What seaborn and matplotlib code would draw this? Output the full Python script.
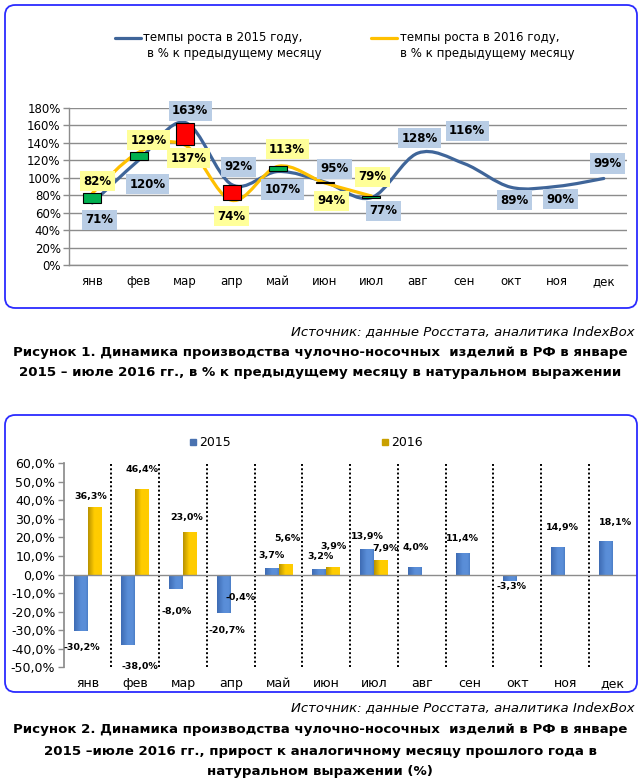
import numpy as np
import pandas as pd
import matplotlib
matplotlib.use("Agg")
import matplotlib.pyplot as plt
import seaborn as sns
from matplotlib.path import Path
from matplotlib.patches import PathPatch, FancyBboxPatch, Rectangle
from matplotlib.lines import Line2D
from matplotlib.colors import to_rgb

months = ["янв", "фев", "мар", "апр", "май", "июн", "июл", "авг", "сен", "окт", "ноя", "дек"]

# рисунок 1: темпы роста к предыдущему месяцу, %
growth_2015 = [71, 120, 163, 92, 107, 95, 77, 128, 116, 89, 90, 99]
growth_2016 = [82, 129, 137, 74, 113, 94, 79]

# рисунок 2: прирост к аналогичному месяцу прошлого года, %
yoy_2015 = [-30.2, -38.0, -8.0, -20.7, 3.7, 3.2, 13.9, 4.0, 11.4, -3.3, 14.9, 18.1]
yoy_2016 = [36.3, 46.4, 23.0, -0.4, 5.6, 3.9, 7.9]

# смещения подписей (в пикселях) относительно точки
off_g15 = [(7, -17), (9, -24), (5, 12), (7, 18), (4, -18), (10, 13), (12, -13),
           (2, 15), (3, 33), (4, -13), (3, -13), (4, 15)]
off_g16 = [(5, 12), (10, 12), (3, -13), (0, -16), (9, 17), (7, -18), (1, 19)]
off_y15 = [(1, -17), (11, -21), (0, -22), (3, -18), (0, 12), (1, 12), (0, 12),
           (1, 20), (0, 15), (1, -6), (4, 19), (10, 19)]
off_y16 = [(-4, 11), (0, 19), (-3, 14), (3, -22), (2, 26), (0, 21), (5, 11)]

C15_LINE = "#3F6599"
C16_LINE = "#FFC000"
C15_BAR = "#5A8ED8"
C16_BAR = "#FFCC00"
GRID = "#8C8C8C"

sns.set_theme(style="white")
plt.rcParams["font.family"] = ["DejaVu Sans"]
plt.rcParams["text.color"] = "black"
plt.rcParams["xtick.color"] = "black"
plt.rcParams["ytick.color"] = "black"

W, H = 640, 780
fig = plt.figure(figsize=(W / 100, H / 100), dpi=100)


def fx(px):
    return px / W


def fy(py):
    return 1 - py / H


def smooth_path(xs, ys):
    # сглаженная линия как в Excel (кривые Безье)
    pts = np.column_stack([xs, ys]).astype(float)
    verts = [pts[0]]
    codes = [Path.MOVETO]
    n = len(pts)
    for i in range(n - 1):
        p0 = pts[i - 1] if i > 0 else pts[i]
        p1, p2 = pts[i], pts[i + 1]
        p3 = pts[i + 2] if i + 2 < n else pts[i + 1]
        verts += [p1 + (p2 - p0) / 6, p2 - (p3 - p1) / 6, p2]
        codes += [Path.CURVE4] * 3
    return Path(verts, codes)


def frame(top, bottom):
    box = FancyBboxPatch((fx(5), fy(bottom)), fx(632), (bottom - top) / H,
                         boxstyle="round,pad=0,rounding_size=0.016",
                         mutation_aspect=W / H, transform=fig.transFigure,
                         facecolor="none", edgecolor="#2B2BFF", lw=1.3)
    fig.patches.append(box)


frame(5, 308)
frame(415, 692)

# ---------- рисунок 1 ----------
ax1 = fig.add_axes([fx(69), fy(265), fx(558), 157.3 / H])
x_all = np.arange(len(months))
ax1.set_xlim(-0.5, 11.5)
ax1.set_ylim(0, 180)
ax1.set_yticks(range(0, 181, 20))
ax1.set_yticklabels([f"{v}%" for v in range(0, 181, 20)], fontsize=8.5)
ax1.set_xticks(x_all)
ax1.set_xticklabels(months, fontsize=8.5)
ax1.set_xticks(np.arange(-0.5, 12, 1), minor=True)
ax1.tick_params(axis="x", which="major", length=0, pad=7)
ax1.tick_params(axis="x", which="minor", length=5, color=GRID, width=1)
ax1.tick_params(axis="y", length=4, color=GRID, width=1, pad=2, left=True)
for s in ["top", "right"]:
    ax1.spines[s].set_visible(False)
for s in ["left", "bottom"]:
    ax1.spines[s].set_color(GRID)
    ax1.spines[s].set_linewidth(1)
ax1.yaxis.grid(True, color=GRID, lw=1)
ax1.set_axisbelow(True)

ax1.add_patch(PathPatch(smooth_path(x_all, growth_2015), fill=False,
                        edgecolor=C15_LINE, lw=2.3, zorder=2, capstyle="round"))
ax1.add_patch(PathPatch(smooth_path(x_all[:len(growth_2016)], growth_2016), fill=False,
                        edgecolor=C16_LINE, lw=2.3, zorder=3, capstyle="round"))

# столбики повышения/понижения
for i, (a, b) in enumerate(zip(growth_2015, growth_2016)):
    lo, hi = min(a, b), max(a, b)
    col = "#00B050" if b > a else "#FF0000"
    ax1.bar(i, hi - lo, bottom=lo, width=0.39, color=col, edgecolor="black",
            lw=0.8, zorder=4)

for i, v in enumerate(growth_2015):
    ax1.annotate(f"{v}%", (i, v), xytext=off_g15[i], textcoords="offset pixels",
                 ha="center", va="center", fontsize=8.5, fontweight="bold", zorder=6,
                 bbox=dict(boxstyle="square,pad=0.3", fc="#B9CDE5", ec="none"))
for i, v in enumerate(growth_2016):
    ax1.annotate(f"{v}%", (i, v), xytext=off_g16[i], textcoords="offset pixels",
                 ha="center", va="center", fontsize=8.5, fontweight="bold", zorder=6,
                 bbox=dict(boxstyle="square,pad=0.3", fc="#FFFF99", ec="none"))

# легенда рисунка 1
fig.add_artist(Line2D([fx(115), fx(141)], [fy(38), fy(38)], color=C15_LINE, lw=2.3,
                      transform=fig.transFigure))
fig.add_artist(Line2D([fx(371), fx(397)], [fy(38), fy(38)], color=C16_LINE, lw=2.3,
                      transform=fig.transFigure))
fig.text(fx(143), fy(38), "темпы роста в 2015 году,", fontsize=8.5, va="center")
fig.text(fx(147), fy(53), "в % к предыдущему месяцу", fontsize=8.5, va="center")
fig.text(fx(400), fy(38), "темпы роста в 2016 году,", fontsize=8.5, va="center")
fig.text(fx(400), fy(53), "в % к предыдущему месяцу", fontsize=8.5, va="center")

fig.text(fx(635), fy(332), "Источник: данные Росстата, аналитика IndexBox",
         fontsize=9.5, style="italic", ha="right", va="center")
fig.text(0.5, fy(353), "Рисунок 1. Динамика производства чулочно-носочных  изделий в РФ в январе",
         fontsize=9.6, fontweight="bold", ha="center", va="center")
fig.text(0.5, fy(372), "2015 – июле 2016 гг., в % к предыдущему месяцу в натуральном выражении",
         fontsize=9.6, fontweight="bold", ha="center", va="center")

# ---------- рисунок 2 ----------
ax2 = fig.add_axes([fx(63.7), fy(667.3), fx(573), 204 / H])
df = pd.DataFrame({
    "month": months + months[:len(yoy_2016)],
    "value": yoy_2015 + yoy_2016,
    "year": ["2015"] * len(yoy_2015) + ["2016"] * len(yoy_2016),
})
sns.barplot(data=df, x="month", y="value", hue="year", order=months,
            hue_order=["2015", "2016"], palette={"2015": C15_BAR, "2016": C16_BAR},
            width=0.58, saturation=1, legend=False, ax=ax2, zorder=3)

# горизонтальный градиент на столбиках
ramps = {
    "2015": [(0.0, "#3E6CB4"), (0.5, "#5A8ED8"), (0.85, "#5A8ED8"), (1.0, "#4B7DC6")],
    "2016": [(0.0, "#B89200"), (0.45, "#FFCC00"), (1.0, "#FFCC00")],
}
for year, cont in zip(["2015", "2016"], ax2.containers):
    stops = ramps[year]
    t = np.linspace(0, 1, 40)
    pos = [s[0] for s in stops]
    rgb = np.array([to_rgb(s[1]) for s in stops])
    grad = np.stack([np.interp(t, pos, rgb[:, c]) for c in range(3)], axis=-1)[None, :, :]
    for bar in cont.patches:
        x0, w = bar.get_x(), bar.get_width()
        y0, h = bar.get_y(), bar.get_height()
        im = ax2.imshow(grad, extent=[x0, x0 + w, min(y0, y0 + h), max(y0, y0 + h)],
                        aspect="auto", interpolation="bilinear", zorder=3.5)
        im.set_clip_path(bar)

ax2.set_xlim(-0.5, 11.5)
ax2.set_ylim(-50, 60)
ax2.set_yticks(range(-50, 61, 10))
ax2.set_yticklabels([f"{v:.1f}%".replace(".", ",") for v in range(-50, 61, 10)], fontsize=9)
ax2.set_xlabel("")
ax2.set_ylabel("")
ax2.tick_params(axis="x", length=0, pad=7, labelsize=9)
ax2.tick_params(axis="y", length=4, color=GRID, width=1, pad=2, left=True)
for s in ["top", "right", "bottom"]:
    ax2.spines[s].set_visible(False)
ax2.spines["left"].set_color(GRID)
ax2.axhline(0, color=GRID, lw=1, zorder=4)
for k in range(len(months) - 1):
    ax2.axvline(k + 0.5, color="black", lw=1.4, ls=(0, (1, 1.2)), zorder=2)

for cont, vals, offs in [(ax2.containers[0], yoy_2015, off_y15),
                         (ax2.containers[1], yoy_2016, off_y16)]:
    for bar, v, o in zip(cont.patches, vals, offs):
        xc = bar.get_x() + bar.get_width() / 2
        ax2.annotate(f"{v:.1f}%".replace(".", ","), (xc, v), xytext=o,
                     textcoords="offset pixels", ha="center", va="center",
                     fontsize=6.8, fontweight="bold", zorder=6)

# легенда рисунка 2
fig.patches.append(Rectangle((fx(190), fy(445)), fx(6), 6 / H, color="#4A72B0",
                             transform=fig.transFigure))
fig.patches.append(Rectangle((fx(382), fy(445)), fx(6), 6 / H, color="#C9A000",
                             transform=fig.transFigure))
fig.text(fx(199), fy(442), "2015", fontsize=9, va="center")
fig.text(fx(391), fy(442), "2016", fontsize=9, va="center")

fig.text(fx(635), fy(708), "Источник: данные Росстата, аналитика IndexBox",
         fontsize=9.5, style="italic", ha="right", va="center")
fig.text(0.5, fy(729), "Рисунок 2. Динамика производства чулочно-носочных  изделий в РФ в январе",
         fontsize=9.6, fontweight="bold", ha="center", va="center")
fig.text(0.5, fy(751), "2015 –июле 2016 гг., прирост к аналогичному месяцу прошлого года в",
         fontsize=9.6, fontweight="bold", ha="center", va="center")
fig.text(0.5, fy(771), "натуральном выражении (%)",
         fontsize=9.6, fontweight="bold", ha="center", va="center")

fig.savefig("out.png", dpi=100, facecolor="white")
